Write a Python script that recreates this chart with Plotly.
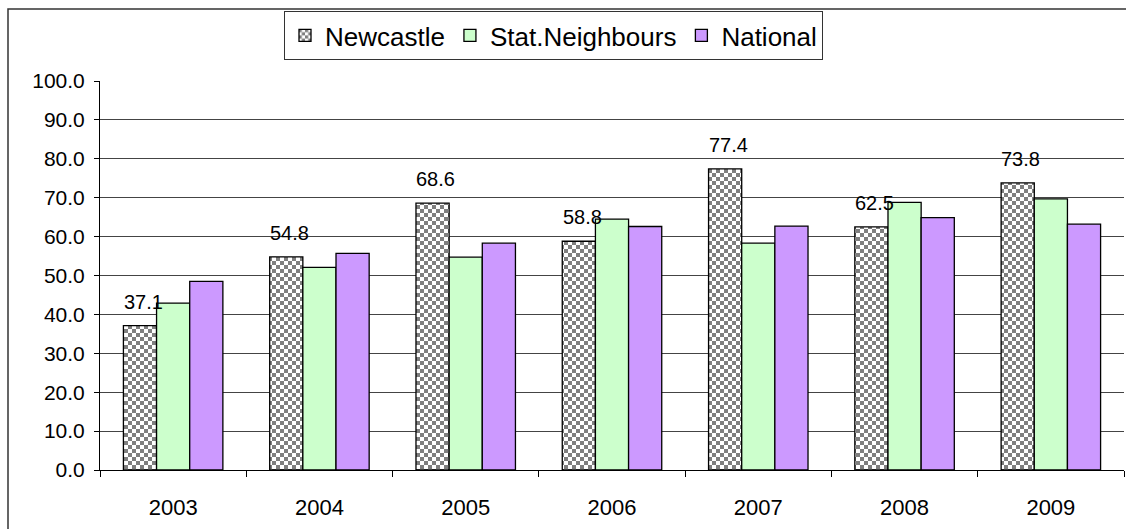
import plotly.graph_objects as go

years = ["2003", "2004", "2005", "2006", "2007", "2008", "2009"]
newcastle = [37.1, 54.8, 68.6, 58.8, 77.4, 62.5, 73.8]
stat_neighbours = [42.9, 52.1, 54.7, 64.5, 58.3, 68.8, 69.7]
national = [48.5, 55.7, 58.3, 62.6, 62.7, 64.9, 63.2]
y_ticks = [0, 10, 20, 30, 40, 50, 60, 70, 80, 90, 100]

W, H = 1126, 529
L, R, T, B = 100, 2, 81, 59
plot_w = W - L - R
plot_h = H - T - B

font = "Liberation Sans, Arial, sans-serif"
edge = dict(color="black", width=1.3)

fig = go.Figure()
fig.add_trace(go.Bar(
    name="Newcastle", x=years, y=newcastle,
    marker=dict(color="white", line=edge,
                pattern=dict(path="M0,0H4V4H0Z M4,4H8V8H4Z", size=8,
                             fgcolor="black", bgcolor="white", solidity=1)),
))
fig.add_trace(go.Bar(
    name="Stat.Neighbours", x=years, y=stat_neighbours,
    marker=dict(color="#ccffcc", line=edge),
))
fig.add_trace(go.Bar(
    name="National", x=years, y=national,
    marker=dict(color="#cc99ff", line=edge),
))

# value labels above the Newcastle bars (x given as category index,
# since the year names look numeric)
for i, v in enumerate(newcastle):
    fig.add_annotation(x=i, y=v, xref="x", yref="y", text=f"{v:.1f}",
                       showarrow=False, xshift=-30, yshift=11,
                       yanchor="bottom", font=dict(size=20, color="black", family=font))

# outer chart frame
fig.add_shape(type="rect", xref="paper", yref="paper",
              x0=(8 - L) / plot_w, x1=(W + 20 - L) / plot_w,
              y0=-(B + 20) / plot_h, y1=1 + (T - 9) / plot_h,
              line=dict(color="#333333", width=1.5), fillcolor="rgba(0,0,0,0)",
              layer="below")

fig.update_layout(
    width=W, height=H,
    margin=dict(l=L, r=R, t=T, b=B),
    paper_bgcolor="white", plot_bgcolor="white",
    barmode="group", bargap=0.32, bargroupgap=0,
    font=dict(family=font, size=21, color="black"),
    showlegend=True,
    legend=dict(orientation="h", x=(284 - L) / plot_w, y=1 + (T - 11) / plot_h,
                xanchor="left", yanchor="top",
                bordercolor="#333333", borderwidth=1, bgcolor="white",
                font=dict(size=26, family=font), traceorder="normal"),
)
fig.update_yaxes(range=[0, 100], tickvals=y_ticks, tickformat=".1f",
                 showgrid=True, gridcolor="#444444", gridwidth=1,
                 showline=True, linecolor="black", linewidth=1,
                 ticks="outside", ticklen=5, tickcolor="black",
                 ticklabelstandoff=5,
                 tickfont=dict(size=21), zeroline=False)
fig.update_xaxes(type="category", range=[-0.5, len(years) - 0.5],
                 showline=True, linecolor="black", linewidth=1,
                 ticks="outside", tickson="boundaries", ticklen=6, tickcolor="black",
                 ticklabelstandoff=18,
                 tickfont=dict(size=22), showgrid=False)

fig.write_html("out.html")
